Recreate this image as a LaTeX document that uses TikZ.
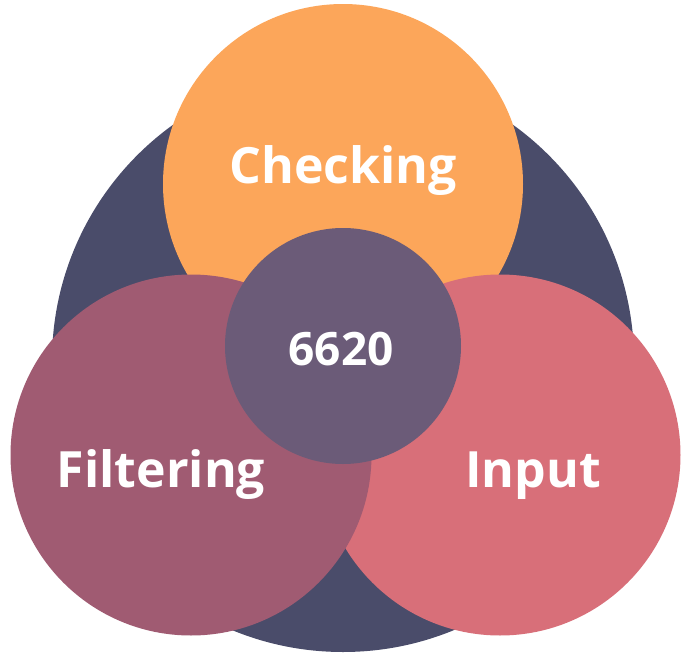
\documentclass[tikz,border=0pt]{standalone}
\usepackage{fontspec}
\setmainfont{Open Sans}
\definecolor{ringdark}{HTML}{4A4C6A}
\definecolor{checkorange}{HTML}{FCA65A}
\definecolor{filterplum}{HTML}{A05B72}
\definecolor{inputrose}{HTML}{D86F79}
\definecolor{coremauve}{HTML}{6B5B78}
\tikzset{
  disc/.style={circle, inner sep=0pt, outer sep=0pt, draw=none},
  label/.style={text=white, anchor=base, inner sep=0pt, font=\bfseries\fontsize{50}{56}\selectfont},
  corelabel/.style={text=white, anchor=base, inner sep=0pt, font=\bfseries\fontsize{46}{52}\selectfont}
}
\begin{document}
\begin{tikzpicture}[x=1pt,y=-1pt]
  \useasboundingbox (0,0) rectangle (681,656);
  % outer ring behind everything
  \node[disc, fill=ringdark, minimum size=582pt] (ring) at (343,361) {};
  % three overlapping petals
  \node[disc, fill=checkorange, minimum size=360pt] (checking) at (343,184) {};
  \node[disc, fill=inputrose, minimum size=361pt] (input) at (500,455) {};
  \node[disc, fill=filterplum, minimum size=361pt] (filtering) at (191,455) {};
  % central core
  \node[disc, fill=coremauve, minimum size=236pt] (core) at (343,346) {};
  % labels
  \node[label] (tchecking) at (343,183) {Checking};
  \node[label] (tfiltering) at (161,487) {Filtering};
  \node[label] (tinput) at (533,487) {Input};
  \node[corelabel] (tcore) at (341,365) {6620};
\end{tikzpicture}
\end{document}
